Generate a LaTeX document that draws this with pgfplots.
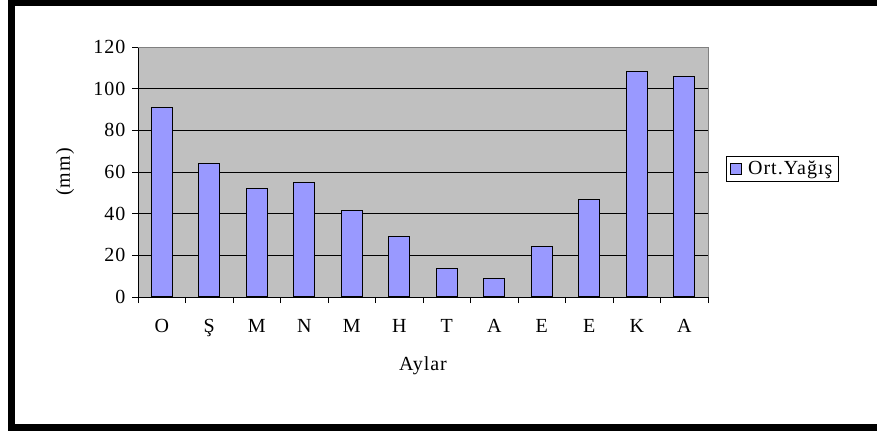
\documentclass[border=0pt]{standalone}
\usepackage{fontspec}
\setmainfont{Liberation Serif}[LetterSpace=5]
\usepackage{pgfplots}
\pgfplotsset{compat=1.18}
\definecolor{barblue}{HTML}{9999FF}
\definecolor{plotgray}{HTML}{C0C0C0}
\newcommand{\cf}{\fontsize{20}{23}\selectfont}
\begin{document}
\begin{tikzpicture}[x=1pt,y=1pt]
\useasboundingbox (0,0) rectangle (877,431);
\begin{scope}
\clip (0,0) rectangle (877,431);
\draw[line width=7pt] (11,3.5) rectangle (890,428);
\end{scope}
\begin{axis}[
  at={(138pt,134pt)}, anchor=south west,
  scale only axis, width=570pt, height=250pt,
  xmin=-0.5, xmax=11.5, ymin=0, ymax=120,
  axis lines*=left,
  axis line style={black, line width=0.8pt},
  axis background/.style={fill=plotgray},
  xtick=data,
  xticklabels={O,Ş,M,N,M,H,T,A,E,E,K,A},
  major x tick style={draw=none},
  minor xtick={-0.5,0.5,...,11.5},
  minor tick length=6pt,
  minor x tick style={black, line width=0.8pt},
  ytick={0,20,...,100},
  extra y ticks={120},
  extra y tick style={grid=none},
  major tick length=6pt,
  tick align=outside,
  y tick style={black, line width=0.8pt},
  ymajorgrids,
  grid style={black, line width=0.8pt},
  /pgf/number format/assume math mode=true,
  tick label style={font=\cf, black},
  xticklabel style={yshift=-13pt},
  yticklabel style={xshift=-3pt},
  label style={font=\cf},
  xlabel={Aylar},
  ylabel={(mm)},
  xlabel style={at={(axis description cs:0.5,0)}, anchor=center, yshift=-69pt},
  ylabel style={at={(axis description cs:0,0.5)}, anchor=center, yshift=73pt},
  legend style={font=\cf, at={(axis description cs:1.0316,0.564)}, anchor=north west,
    draw=black, line width=0.6pt, inner xsep=4pt, inner ysep=3pt},
  legend image code/.code={\draw[fill=barblue, draw=black, line width=0.8pt] (-2pt,-5.5pt) rectangle (9pt,5.5pt);},
  clip=false,
]
\addplot[ybar, bar width=21pt, fill=barblue, draw=black, line width=1pt]
  coordinates {(0,91) (1,64) (2,52) (3,55) (4,41.5) (5,28.8) (6,13.8) (7,9.1) (8,24.2) (9,46.7) (10,108) (11,105.8)};
\addlegendentry{\hspace{4pt}Ort.Yağış}
\draw[gray, line width=0.8pt] (rel axis cs:0,1) -- (rel axis cs:1,1) -- (rel axis cs:1,0);
\end{axis}
\end{tikzpicture}
\end{document}
